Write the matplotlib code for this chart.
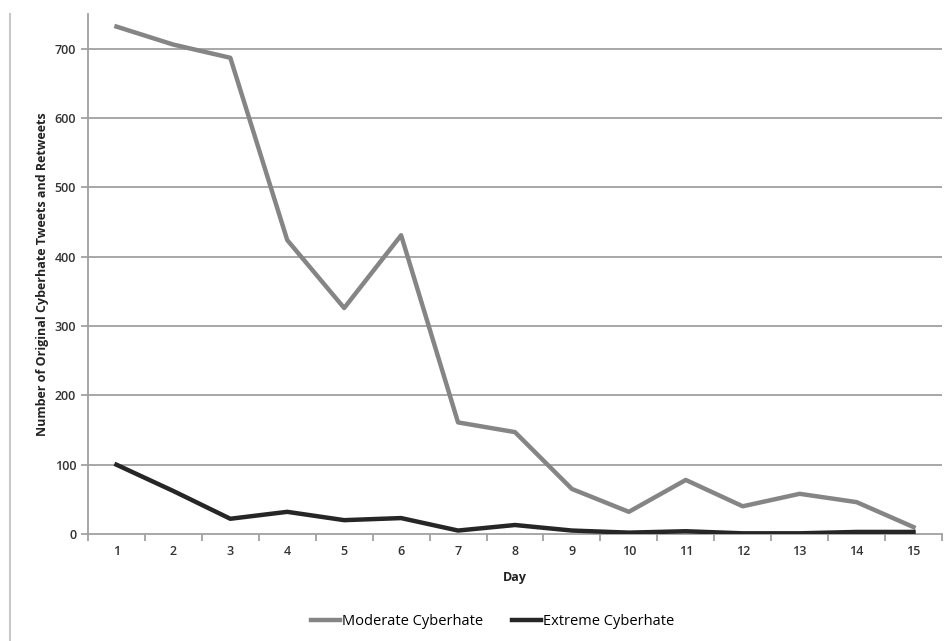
import numpy as np
import matplotlib
matplotlib.use("Agg")
import matplotlib.pyplot as plt
from matplotlib.lines import Line2D

days = list(range(1, 16))
moderate = [732, 706, 687, 424, 326, 431, 161, 147, 65, 32, 78, 40, 58, 46, 10]
extreme = [100, 62, 22, 32, 20, 23, 5, 13, 5, 2, 4, 1, 1, 3, 3]
yticks = [0, 100, 200, 300, 400, 500, 600, 700]

plt.rcParams['font.family'] = ['Open Sans', 'DejaVu Sans']

fig = plt.figure(figsize=(9.47, 6.41), dpi=100)
ax = fig.add_axes([0.0929, 0.1669, 0.9018, 0.8111])

grid_c = '#a0a0a0'
for y in yticks[1:]:
    ax.axhline(y, color=grid_c, lw=1.3, zorder=1)

ax.plot(days, moderate, color='#858585', lw=3.2, label='Moderate Cyberhate', zorder=3)
ax.plot(days, extreme, color='#262626', lw=3.2, label='Extreme Cyberhate', zorder=4)

ax.set_xlim(0.5, 15.5)
ax.set_ylim(0, 750)
ax.set_yticks(yticks)
ax.set_xticks(days)
ax.set_xticks(np.arange(0.5, 16, 1), minor=True)
ax.tick_params(axis='x', which='major', length=0, pad=8, labelsize=9, labelcolor='#333333')
ax.tick_params(axis='x', which='minor', length=5, color=grid_c, width=1.3)
ax.tick_params(axis='y', length=5, color=grid_c, width=1.3, labelsize=9, labelcolor='#333333')
for lab in ax.get_xticklabels() + ax.get_yticklabels():
    lab.set_fontweight('semibold')

for s in ['top', 'right']:
    ax.spines[s].set_visible(False)
for s in ['left', 'bottom']:
    ax.spines[s].set_color(grid_c)
    ax.spines[s].set_linewidth(1.3)

ax.set_xlabel('Day', fontsize=9, fontweight='bold', color='#222222', labelpad=9)
ax.set_ylabel('Number of Original Cyberhate Tweets and Retweets', fontsize=9,
              fontweight='bold', color='#222222', labelpad=4)

fig.legend(loc='center', bbox_to_anchor=(0.52, 0.03), ncol=2, frameon=False,
           fontsize=10.5, handlelength=2.0, handletextpad=0.1, columnspacing=2.0)

# left border line of the original page
fig.add_artist(Line2D([0.0106, 0.0106], [0.0, 0.978], color='#c8c8c8', lw=1.5))

fig.savefig('out.png', dpi=100)
